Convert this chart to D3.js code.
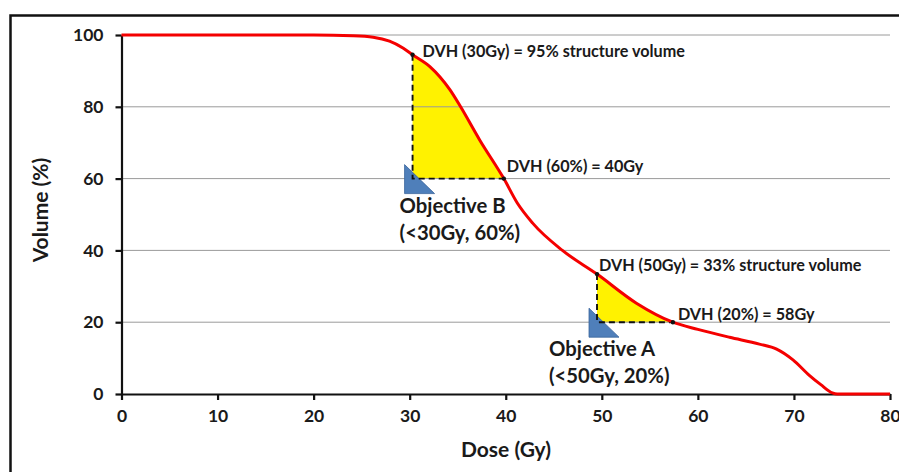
<!DOCTYPE html>
<html>
<head>
<meta charset="utf-8">
<script src="https://cdnjs.cloudflare.com/ajax/libs/d3/7.8.5/d3.min.js"></script>
<style>
html, body { margin: 0; padding: 0; background: #fff; overflow: hidden; }
svg { display: block; }
text { font-family: Lato, "Open Sans", sans-serif; font-weight: 700; fill: #1a1a1a; }
</style>
</head>
<body>
<div id="chart"></div>
<script>
// curve
var doses = [0, 10, 20, 24.1, 26.2, 27.9, 29.3, 30.3, 32.1, 34.2, 35.3, 37.3, 39.8, 41.2, 42.8, 45.9, 49.5, 53.6, 57.4, 60, 63.3, 66.4, 68.2, 69.9, 71.6, 72.8, 74, 74.5, 80];
var volumes = [100, 100, 100, 99.8, 99.4, 98.3, 96.4, 94.5, 91.2, 84.7, 80, 70.7, 60, 53.2, 47.6, 40, 33.4, 25.3, 20, 18, 15.8, 13.9, 12.5, 9.5, 5.2, 2.6, 0.3, 0, 0];
var xTicks = [0, 10, 20, 30, 40, 50, 60, 70, 80];
var yTicks = [0, 20, 40, 60, 80, 100];
var regions = [[30.3, 39.8, 60], [49.5, 57.4, 20]]; // from dose, to dose, volume floor
var notes = [
  { dose: 30.3, volume: 94.5, dx: 10, dy: 2, label: "DVH (30Gy) = 95% structure volume" },
  { dose: 39.8, volume: 60, dx: 3, dy: -7, label: "DVH (60%) = 40Gy" },
  { dose: 49.5, volume: 33.4, dx: 2, dy: -3, label: "DVH (50Gy) = 33% structure volume" },
  { dose: 57.4, volume: 20, dx: 5, dy: -2, label: "DVH (20%) = 58Gy" }
];
var objectives = [
  { dose: 30.3, volume: 60, lines: ["Objective B", "(<30Gy, 60%)"] },
  { dose: 49.5, volume: 20, lines: ["Objective A", "(<50Gy, 20%)"] }
];

var width = 899, height = 472;
var x = d3.scaleLinear().domain([0, 80]).range([121.5, 890]);
var y = d3.scaleLinear().domain([0, 100]).range([394, 35]);

var svg = d3.select('#chart').append('svg')
  .attr('width', width)
  .attr('height', height);

// outer frame, runs off the right and bottom of the picture
svg.append('rect')
  .attr('x', 10.5).attr('y', 15.5)
  .attr('width', width + 20).attr('height', height + 20)
  .attr('fill', 'none')
  .attr('stroke', '#111')
  .attr('stroke-width', 2.5);

var points = doses.map(function(d, i) { return [d, volumes[i]]; });

// yellow regions between the curve and the objective
regions.forEach(function(r) {
  var part = points.filter(function(p) { return p[0] >= r[0] && p[0] <= r[1]; });
  svg.append('path')
    .datum(part)
    .attr('fill', '#fff200')
    .attr('d', d3.area()
      .x(function(d) { return x(d[0]); })
      .y0(y(r[2]))
      .y1(function(d) { return y(d[1]); })
      .curve(d3.curveMonotoneX));
});

// gridlines
svg.append('g').selectAll('line')
  .data(yTicks.filter(function(d) { return d > 0; }))
  .enter().append('line')
  .attr('x1', x(0)).attr('x2', x(80))
  .attr('y1', function(d) { return y(d); })
  .attr('y2', function(d) { return y(d); })
  .attr('stroke', '#9a9a9a')
  .attr('stroke-width', 1);

// blue triangles
svg.append('g').selectAll('path')
  .data(objectives)
  .enter().append('path')
  .attr('fill', '#4f7fba')
  .attr('stroke', '#3a659c')
  .attr('stroke-width', 0.8)
  .attr('d', function(d) {
    var px = x(d.dose), py = y(d.volume);
    return 'M' + (px - 8) + ',' + (py - 14) + 'L' + (px - 8) + ',' + (py + 15) + 'L' + (px + 22) + ',' + (py + 15) + 'Z';
  });

// dashed guides
objectives.forEach(function(o, i) {
  var r = regions[i];
  var top = volumes[doses.indexOf(r[0])];
  svg.append('path')
    .attr('d', 'M' + x(r[0]) + ',' + y(top) + 'L' + x(r[0]) + ',' + y(r[2]) + 'L' + x(r[1]) + ',' + y(r[2]))
    .attr('fill', 'none')
    .attr('stroke', '#111')
    .attr('stroke-width', 1.9)
    .attr('stroke-dasharray', '6,4');
});

// axes
var xAxis = d3.axisBottom(x).tickValues(xTicks).tickSize(6).tickSizeOuter(0).tickPadding(10);
var yAxis = d3.axisLeft(y).tickValues(yTicks).tickSize(6).tickSizeOuter(0).tickPadding(12);

var gx = svg.append('g').attr('transform', 'translate(0,' + y(0) + ')').call(xAxis);
var gy = svg.append('g').attr('transform', 'translate(' + x(0) + ',0)').call(yAxis);

[gx, gy].forEach(function(g) {
  g.selectAll('path, line').attr('stroke', '#111').attr('stroke-width', 2.2);
  g.selectAll('text').attr('font-size', 17.5).attr('font-family', 'Lato').attr('font-weight', 700).attr('fill', '#1a1a1a');
});

// curve
svg.append('path')
  .datum(points)
  .attr('fill', 'none')
  .attr('stroke', '#f40000')
  .attr('stroke-width', 3)
  .attr('d', d3.line()
    .x(function(d) { return x(d[0]); })
    .y(function(d) { return y(d[1]); })
    .curve(d3.curveMonotoneX));

// dots and DVH labels
var note = svg.append('g').selectAll('g').data(notes).enter().append('g');
note.append('circle')
  .attr('cx', function(d) { return x(d.dose); })
  .attr('cy', function(d) { return y(d.volume); })
  .attr('r', 2.2)
  .attr('fill', '#111');
note.append('text')
  .attr('x', function(d) { return x(d.dose) + d.dx; })
  .attr('y', function(d) { return y(d.volume) + d.dy; })
  .attr('font-size', 16.2)
  .text(function(d) { return d.label; });

// objective captions
objectives.forEach(function(o) {
  var t = svg.append('text')
    .attr('font-size', 20.3);
  o.lines.forEach(function(l, i) {
    t.append('tspan')
      .attr('x', x(o.dose) - (o.volume == 60 ? 13 : 48))
      .attr('y', y(o.volume) + 34 + i * 27)
      .text(l);
  });
});

// axis titles
svg.append('text')
  .attr('x', 506).attr('y', 457)
  .attr('text-anchor', 'middle')
  .attr('font-size', 21)
  .text('Dose (Gy)');
svg.append('text')
  .attr('transform', 'translate(48,210) rotate(-90)')
  .attr('text-anchor', 'middle')
  .attr('font-size', 21)
  .text('Volume (%)');
</script>
</body>
</html>
